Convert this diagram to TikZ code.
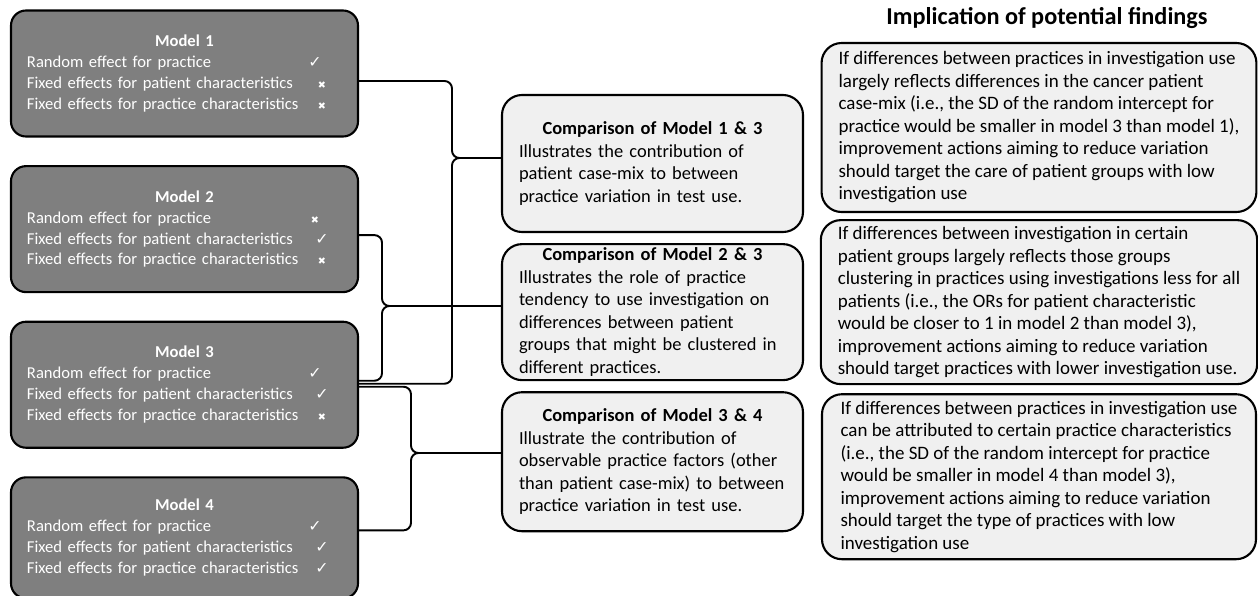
\documentclass[tikz,border=0pt]{standalone}
\usepackage{fontspec}
\setmainfont{Carlito}
\newfontfamily\markfont{DejaVu Sans}
\usepackage{tikz}
\usetikzlibrary{positioning}
\definecolor{modelgray}{HTML}{7F7F7F}
\definecolor{notegray}{HTML}{F0F0F0}
\newcommand{\tickmk}{{\markfont\fontsize{9}{9}\selectfont ✓}}
\newcommand{\crossmk}{{\markfont\fontsize{5.5}{6}\selectfont ✖}}
\newcommand{\mrow}[3]{\makebox[#1][l]{#2}\makebox[0pt]{#3}}

\begin{document}
\begin{tikzpicture}[x=0.2mm, y=-0.2mm,
    font=\fontsize{10.5}{12.8}\selectfont,
    model/.style={draw=black, line width=1.2pt, rounded corners=3mm, fill=modelgray,
                  text=white, font=\fontsize{9.45}{11.9}\selectfont,
                  text width=63mm, align=left, inner xsep=3.2mm, minimum height=25.2mm},
    note/.style={draw=black, line width=1.2pt, rounded corners=4mm, fill=notegray,
                 align=left, inner xsep=3.4mm, inner ysep=0.5mm},
    finding/.style={note, font=\fontsize{10.8}{12.8}\selectfont, minimum width=86.8mm},
    brace/.style={line width=1.1pt, rounded corners=1.5mm}
]
\useasboundingbox (0,0) rectangle (1258,595);

% models
\node[model] (m1) at (184.5,73.5)
    {\makebox[\hsize]{\textbf{Model 1}}\\
     \mrow{57.6mm}{Random effect for practice}{\tickmk}\\
     \mrow{59mm}{Fixed effects for patient characteristics}{\crossmk}\\
     \mrow{59mm}{Fixed effects for practice characteristics}{\crossmk}};
\node[model, below=5.5mm of m1] (m2)
    {\makebox[\hsize]{\textbf{Model 2}}\\
     \mrow{57.6mm}{Random effect for practice}{\crossmk}\\
     \mrow{59mm}{Fixed effects for patient characteristics}{\tickmk}\\
     \mrow{59mm}{Fixed effects for practice characteristics}{\crossmk}};
\node[model, below=5.5mm of m2] (m3)
    {\makebox[\hsize]{\textbf{Model 3}}\\
     \mrow{57.6mm}{Random effect for practice}{\tickmk}\\
     \mrow{59mm}{Fixed effects for patient characteristics}{\tickmk}\\
     \mrow{59mm}{Fixed effects for practice characteristics}{\crossmk}};
\node[model, below=5.5mm of m3, minimum height=24.2mm] (m4)
    {\makebox[\hsize]{\textbf{Model 4}}\\
     \mrow{57.6mm}{Random effect for practice}{\tickmk}\\
     \mrow{59mm}{Fixed effects for patient characteristics}{\tickmk}\\
     \mrow{59mm}{Fixed effects for practice characteristics}{\tickmk}};

% comparisons
\node[note, text width=53.4mm, minimum height=27.4mm] (c13) at (652.5,163.5)
    {\makebox[\hsize]{\textbf{Comparison of Model 1 \& 3}}\\
     Illustrates the contribution of\\
     patient case-mix to between\\
     practice variation in test use.};
\node[note, text width=53.4mm, minimum height=27.2mm, below=2mm of c13] (c23)
    {\makebox[\hsize]{\textbf{Comparison of Model 2 \& 3}}\\
     Illustrates the role of practice\\
     tendency to use investigation on\\
     differences between patient\\
     groups that might be clustered in\\
     different practices.};
\node[note, text width=53.4mm, minimum height=27.8mm, below=2mm of c23] (c34)
    {\makebox[\hsize]{\textbf{Comparison of Model 3 \& 4}}\\
     Illustrate the contribution of\\
     observable practice factors (other\\
     than patient case-mix) to between\\
     practice variation in test use.\\[4.5mm]};

% implications
\node[font=\bfseries\fontsize{13.8}{16}\selectfont] (head) at (1047,18)
    {Implication of potential findings};
\node[finding, minimum height=33.8mm] (f1) at (1039,127.5)
    {If differences between practices in investigation use\\
     largely reflects differences in the cancer patient\\
     case-mix (i.e., the SD of the random intercept for\\
     practice would be smaller in model 3 than model 1),\\
     improvement actions aiming to reduce variation\\
     should target the care of patient groups with low\\
     investigation use};
\node[finding, minimum height=32.8mm, below=1.2mm of f1] (f2)
    {If differences between investigation in certain\\
     patient groups largely reflects those groups\\
     clustering in practices using investigations less for all\\
     patients (i.e., the ORs for patient characteristic\\
     would be closer to 1 in model 2 than model 3),\\
     improvement actions aiming to reduce variation\\
     should target practices with lower investigation use.};
\node[finding, minimum height=33mm, below=1.6mm of f2] (f3)
    {If differences between practices in investigation use\\
     can be attributed to certain practice characteristics\\
     (i.e., the SD of the random intercept for practice\\
     would be smaller in model 4 than model 3),\\
     improvement actions aiming to reduce variation\\
     should target the type of practices with low\\
     investigation use};

% braces
\coordinate (kA) at (452,158);
\coordinate (kB) at (382,306);
\coordinate (kC) at (411,453);
\draw[brace] ([yshift=-1.5mm]m1.east) -| (kA) -- (kA -| c13.west);
\draw[brace] ([yshift=0.2mm]m3.east) -| (kA) -- (kA -| c13.west);
\draw[brace] ([yshift=-1.2mm]m2.east) -| (kB) -- (kB -| c23.west);
\draw[brace] ([yshift=0.8mm]m3.east) -| (kB) -- (kB -| c23.west);
\draw[brace] ([yshift=-0.4mm]m3.east) -| (kC) -- (kC -| c34.west);
\draw[brace] ([yshift=1.5mm]m4.east) -| (kC) -- (kC -| c34.west);
\end{tikzpicture}
\end{document}
